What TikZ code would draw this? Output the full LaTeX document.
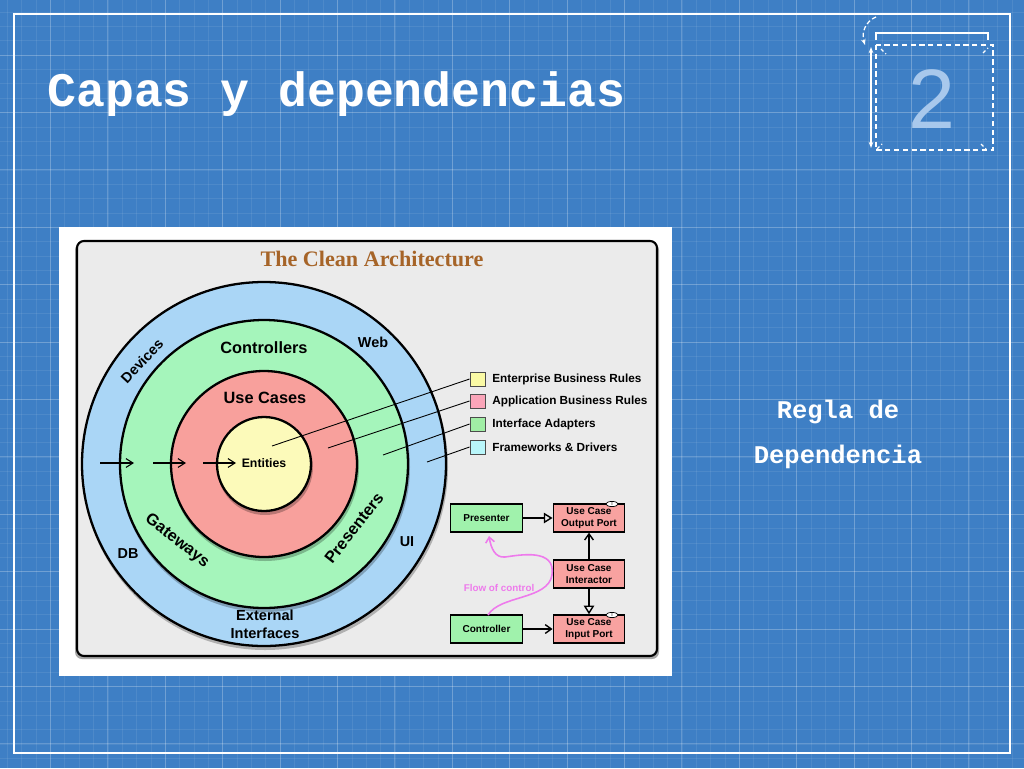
\documentclass[tikz,border=0pt]{standalone}
\usepackage{fontspec}
\setmainfont{Liberation Sans}
\newfontfamily\slidemono{Liberation Mono}
\newfontfamily\archserif{Liberation Serif}
\usepackage{tikz}
\usetikzlibrary{arrows.meta, calc, positioning, shapes.geometric}

\definecolor{bgblue}{RGB}{62,127,197}
\definecolor{numblue}{RGB}{168,200,236}
\definecolor{panelgrey}{RGB}{235,235,235}
\definecolor{titlebrown}{RGB}{166,100,40}
\definecolor{ringblue}{RGB}{170,214,246}
\definecolor{ringgreen}{RGB}{165,245,187}
\definecolor{ringred}{RGB}{248,160,156}
\definecolor{ringyellow}{RGB}{252,250,186}
\definecolor{keyyellow}{RGB}{250,250,165}
\definecolor{keypink}{RGB}{250,165,185}
\definecolor{keygreen}{RGB}{160,238,165}
\definecolor{keycyan}{RGB}{185,246,250}
\definecolor{boxgreen}{RGB}{160,242,172}
\definecolor{boxred}{RGB}{248,162,160}
\definecolor{flowpink}{RGB}{238,122,236}

\begin{document}
\begin{tikzpicture}
      [x=0.02cm,y=-0.02cm,
       gridminor/.style={white,opacity=.08,line width=.4pt},
       gridmajor/.style={white,opacity=.2,line width=.6pt},
       deco/.style={white,line width=.7pt},
       ring/.style={draw=black,line width=1.3pt},
       ringshadow/.style={fill=black,opacity=.25},
       ringlabel/.style={font=\bfseries\fontsize{9.3}{10}\selectfont},
       smalllabel/.style={font=\bfseries\fontsize{8.2}{10}\selectfont},
       keybox/.style={draw=black!70,line width=.5pt,minimum width=.3cm,minimum height=.28cm,inner sep=0pt},
       keytext/.style={anchor=west,inner sep=0pt,font=\bfseries\fontsize{6.7}{8}\selectfont},
       keyline/.style={black,line width=.5pt},
       flowbox/.style={draw=black,line width=.8pt,minimum width=1.43cm,minimum height=.56cm,inner sep=0pt,
                       align=center,font=\bfseries\fontsize{5.7}{6.4}\selectfont},
       tagI/.style={ellipse,draw=black,fill=white,line width=.4pt,minimum width=.24cm,minimum height=.1cm,
                    inner sep=0pt,font=\fontsize{3}{3}\selectfont},
       slidetext/.style={white,font=\slidemono\bfseries\fontsize{14.5}{16}\selectfont}]
      \useasboundingbox (0,0) rectangle (1024,768);

      % blueprint background
      \fill[bgblue] (0,0) rectangle (1024,768);
      \foreach \i in {0,...,71}
        \draw[gridminor] ({7.45+14.35*\i},0) -- ({7.45+14.35*\i},768);
      \foreach \i in {0,...,53}
        \draw[gridminor] (0,{12.05+14.35*\i}) -- (1024,{12.05+14.35*\i});
      \foreach \i in {0,...,17}
        \draw[gridmajor] ({50.5+57.4*\i},0) -- ({50.5+57.4*\i},768);
      \foreach \i in {0,...,13}
        \draw[gridmajor] (0,{55.1+57.4*\i}) -- (1024,{55.1+57.4*\i});
      \draw[white,line width=1pt] (14,14) rectangle (1010,753);

      % title and page number
      \node[anchor=base west,inner sep=0pt,white,font=\slidemono\bfseries\fontsize{27.4}{30}\selectfont]
        (title) at (47,106) {Capas y dependencias};
      \node[anchor=base,inner sep=0pt,numblue,font=\fontsize{48}{50}\selectfont] (pagenum) at (932,128) {2};
      \draw[deco] (876,40) -- (876,33) -- (988,33) -- (988,40);
      \draw[deco,dashed,dash pattern=on 3pt off 2pt] (876,45) rectangle (993,150);
      \foreach \a/\b in {{(881,49)}/{(886,54)},{(983,53)}/{(988,48)},{(877,149)}/{(882,144)},{(981,144)}/{(986,149)}}
        \draw[deco,dashed,dash pattern=on 2pt off 1.5pt] \a -- \b;
      \coordinate (turnA) at (876,17);
      \coordinate (turnB) at (865,45);
      \coordinate (rulerA) at (871,47);
      \coordinate (rulerB) at (871,148);
      \draw[deco,dashed,dash pattern=on 2.5pt off 1.5pt,-{Stealth[length=3.5pt]}] (turnA) .. controls (866,21) and (861,32) .. (turnB);
      \draw[deco,{Stealth[length=3.5pt]}-{Stealth[length=3.5pt]}] (rulerA) -- (rulerB);

      % picture panel
      \fill[white] (59,227) rectangle (672,676);
      \fill[black,opacity=.35,rounded corners=4pt] (75,243) rectangle (659,659);
      \draw[fill=panelgrey,line width=1.2pt,rounded corners=4pt] (77,241) rectangle (657,656);
      \node[titlebrown,font=\archserif\bfseries\fontsize{12.6}{14}\selectfont] (cleantitle) at (372,259) {The Clean Architecture};

      % rings
      \coordinate (ctr) at (264,464);
      \fill[ringshadow] ($(ctr)+(1,3)$) circle[radius=183];
      \draw[ring,fill=ringblue] (ctr) circle[radius=182];
      \fill[ringshadow] ($(ctr)+(1,3)$) circle[radius=145];
      \draw[ring,fill=ringgreen] (ctr) circle[radius=144];
      \fill[ringshadow] ($(ctr)+(1,3)$) circle[radius=94];
      \draw[ring,fill=ringred] (ctr) circle[radius=93];
      \fill[ringshadow] ($(ctr)+(1,3)$) circle[radius=48];
      \draw[ring,fill=ringyellow] (ctr) circle[radius=47];

      \node[ringlabel] (controllers) at (264,348) {Controllers};
      \node[ringlabel] (usecases) at (265,398) {Use Cases};
      \node[font=\bfseries\fontsize{7}{8}\selectfont] (entities) at (264,463) {Entities};
      \node[smalllabel] (web) at (373,342) {Web};
      \node[smalllabel,rotate=47] (devices) at (142,361) {Devices};
      \node[smalllabel] (db) at (128,554) {DB};
      \node[smalllabel] (ui) at (407,542) {UI};
      \node[smalllabel,align=center,font=\bfseries\fontsize{8.3}{10.2}\selectfont] (external) at (265,624) {External\\Interfaces};
      \node[ringlabel,rotate=-38] (gateways) at (177,541) {Gateways};
      \node[ringlabel,rotate=52] (presenters) at (354,528) {Presenters};

      % dependency arrows
      \coordinate (d1) at (100,463);
      \coordinate (d2) at (134,463);
      \coordinate (d3) at (153,463);
      \coordinate (d4) at (186,463);
      \coordinate (d5) at (203,463);
      \coordinate (d6) at (236,463);
      \foreach \from/\to in {d1/d2,d3/d4,d5/d6}
        \draw[black,line width=.6pt,-{Straight Barb[length=4pt,width=5pt]}] (\from) -- (\to);

      % legend
      \node[keybox,fill=keyyellow] (kyellow) at (477.5,379) {};
      \node[keybox,fill=keypink]   (kpink)   at (477.5,401) {};
      \node[keybox,fill=keygreen]  (kgreen)  at (477.5,424) {};
      \node[keybox,fill=keycyan]   (kcyan)   at (477.5,447) {};
      \node[keytext] (tyellow) at (492,379) {Enterprise Business Rules};
      \node[keytext] (tpink)   at (492,401) {Application Business Rules};
      \node[keytext] (tgreen)  at (492,424) {Interface Adapters};
      \node[keytext] (tcyan)   at (492,447) {Frameworks \& Drivers};
      \coordinate (pyellow) at (272,446);
      \coordinate (ppink)   at (328,448);
      \coordinate (pgreen)  at (383,455);
      \coordinate (pcyan)   at (427,462);
      \foreach \from/\to in {pyellow/kyellow,ppink/kpink,pgreen/kgreen,pcyan/kcyan}
        \draw[keyline] (\from) -- (\to.west);

      % flow of control
      \node[flowbox,fill=boxgreen] (presenter)  at (486.5,518) {Presenter};
      \node[flowbox,fill=boxred]   (outport)    at (589,518)   {Use Case\\Output Port};
      \node[flowbox,fill=boxred]   (interactor) at (589,574)   {Use Case\\Interactor};
      \node[flowbox,fill=boxgreen] (controller) at (486.5,629) {Controller};
      \node[flowbox,fill=boxred]   (inport)     at (589,629)   {Use Case\\Input Port};
      \node[tagI] (outtag) at (612,504) {I};
      \node[tagI] (intag)  at (612,615) {I};

      \draw[line width=.8pt,-{Triangle[open,length=5pt,width=6pt]}] (presenter) -- (outport);
      \draw[line width=.8pt,-{Triangle[open,length=5pt,width=6pt]}] (interactor) -- (inport);
      \draw[line width=.8pt,-{Straight Barb[length=3.5pt,width=5pt]}] (interactor) -- (outport);
      \draw[line width=.8pt,-{Straight Barb[length=3.5pt,width=5pt]}] (controller) -- (inport);

      \coordinate (flowA) at (488,615);
      \coordinate (flowB) at (489,536);
      \draw[flowpink,line width=.9pt,-{Straight Barb[length=3pt,width=5pt]}]
        (flowA) .. controls (500,595) and (548,600) .. (552,575)
                .. controls (556,548) and (520,555) .. (505,557)
                .. controls (495,558) and (491,548) .. (flowB);
      \node[flowpink,font=\bfseries\fontsize{5.6}{6}\selectfont] (flowtext) at (499,588) {Flow of control};

      % side note
      \node[slidetext,anchor=base] (regla) at (838,418) {Regla de};
      \node[slidetext,anchor=base] (dependencia) at (838,463) {Dependencia};

    \end{tikzpicture}
\end{document}
